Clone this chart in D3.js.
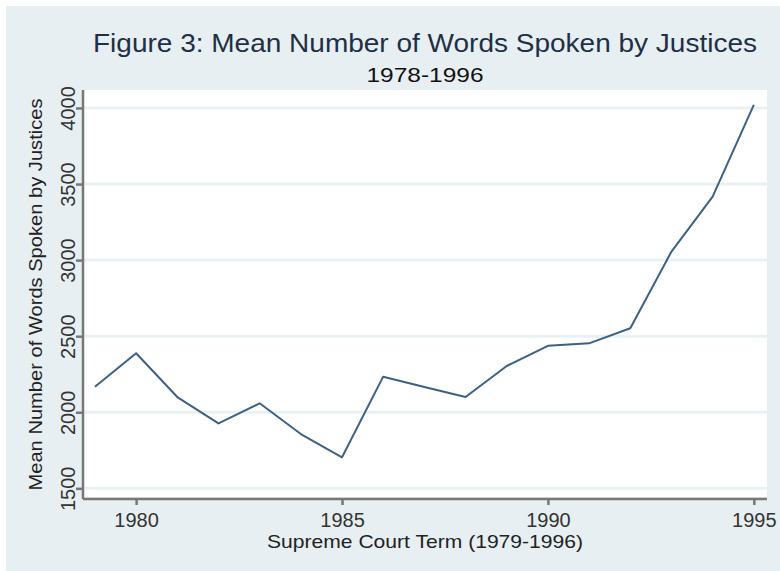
<!DOCTYPE html>
<html>
<head>
<meta charset="utf-8">
<script src="https://cdn.jsdelivr.net/npm/d3@7"></script>
<style>
  body { margin: 0; background: #fff; }
  svg { display: block; font-family: "Liberation Sans", Arial, sans-serif; }
</style>
</head>
<body>
<svg id="chart" width="780" height="571"></svg>
<script>
// Supreme Court terms and mean words spoken
const terms = [1979, 1980, 1981, 1982, 1983, 1984, 1985, 1986, 1987,
               1988, 1989, 1990, 1991, 1992, 1993, 1994, 1995];
const meanWords = [2168, 2388, 2100, 1927, 2059, 1857, 1704, 2234, 2166,
                   2100, 2304, 2437, 2453, 2552, 3056, 3417, 4020];
const xTicks = [1980, 1985, 1990, 1995];
const yTicks = [1500, 2000, 2500, 3000, 3500, 4000];

const svg = d3.select("#chart");

// outer background
svg.append("rect")
    .attr("x", 6).attr("y", 6)
    .attr("width", 774).attr("height", 565)
    .attr("fill", "#e8eff2");

const plot = { left: 83, right: 767, top: 90, bottom: 499 };

// plot area
svg.append("rect")
    .attr("x", plot.left).attr("y", plot.top)
    .attr("width", plot.right - plot.left)
    .attr("height", plot.bottom - plot.top - 2)
    .attr("fill", "#ffffff");

const x = d3.scaleLinear()
    .domain([1978.71, 1995.32])
    .range([plot.left, plot.right]);

const y = d3.scaleLinear()
    .domain([1430, 4118])
    .range([plot.bottom, plot.top]);

// grid lines
svg.append("g")
    .selectAll("line")
    .data(yTicks)
    .enter()
    .append("line")
    .attr("x1", plot.left).attr("x2", plot.right)
    .attr("y1", d => y(d)).attr("y2", d => y(d))
    .attr("stroke", "#eaf1f3")
    .attr("stroke-width", 3);

// line
const line = d3.line()
    .x((d, i) => x(terms[i]))
    .y(d => y(d));

svg.append("path")
    .datum(meanWords)
    .attr("d", line)
    .attr("fill", "none")
    .attr("stroke", "#3d6185")
    .attr("stroke-width", 2)
    .attr("stroke-linejoin", "round");

// axes
const axisColor = "#777";

const xAxis = svg.append("g")
    .attr("transform", "translate(0," + plot.bottom + ")")
    .call(d3.axisBottom(x).tickValues(xTicks).tickFormat(d3.format("d"))
        .tickSize(6).tickSizeOuter(0));
xAxis.select(".domain")
    .attr("d", "M" + plot.left + ",0H" + plot.right)
    .attr("stroke", axisColor).attr("stroke-width", 2.5);
xAxis.selectAll(".tick line").attr("stroke", axisColor).attr("stroke-width", 2.5);
xAxis.selectAll(".tick text")
    .attr("fill", "#333")
    .style("font-size", "20px")
    .attr("y", 28).attr("dy", 0);

const yAxis = svg.append("g")
    .attr("transform", "translate(" + plot.left + ",0)")
    .call(d3.axisLeft(y).tickValues(yTicks).tickFormat(d3.format("d"))
        .tickSize(7).tickSizeOuter(0));
yAxis.select(".domain")
    .attr("d", "M0," + plot.top + "V" + plot.bottom)
    .attr("stroke", axisColor).attr("stroke-width", 2.5);
yAxis.selectAll(".tick line").attr("stroke", axisColor).attr("stroke-width", 2.5);
yAxis.selectAll(".tick text")
    .attr("fill", "#333")
    .style("font-size", "20px")
    .attr("x", 0).attr("dy", 0)
    .attr("text-anchor", "middle")
    .attr("transform", "translate(-8,0) rotate(-90)");

// titles
const cx = (plot.left + plot.right) / 2;

svg.append("text")
    .attr("x", cx).attr("y", 52)
    .attr("text-anchor", "middle")
    .attr("fill", "#1f2f45")
    .style("font-size", "26px")
    .attr("textLength", 664)
    .attr("lengthAdjust", "spacingAndGlyphs")
    .text("Figure 3: Mean Number of Words Spoken by Justices");

svg.append("text")
    .attr("x", cx).attr("y", 82)
    .attr("text-anchor", "middle")
    .attr("fill", "#111")
    .style("font-size", "21px")
    .attr("textLength", 117)
    .attr("lengthAdjust", "spacingAndGlyphs")
    .text("1978-1996");

svg.append("text")
    .attr("x", cx).attr("y", 548)
    .attr("text-anchor", "middle")
    .attr("fill", "#222")
    .style("font-size", "19px")
    .attr("textLength", 316)
    .attr("lengthAdjust", "spacingAndGlyphs")
    .text("Supreme Court Term (1979-1996)");

svg.append("text")
    .attr("transform", "translate(42," + ((plot.top + plot.bottom) / 2) + ") rotate(-90)")
    .attr("text-anchor", "middle")
    .attr("fill", "#222")
    .style("font-size", "19px")
    .attr("textLength", 392)
    .attr("lengthAdjust", "spacingAndGlyphs")
    .text("Mean Number of Words Spoken by Justices");
</script>
</body>
</html>
